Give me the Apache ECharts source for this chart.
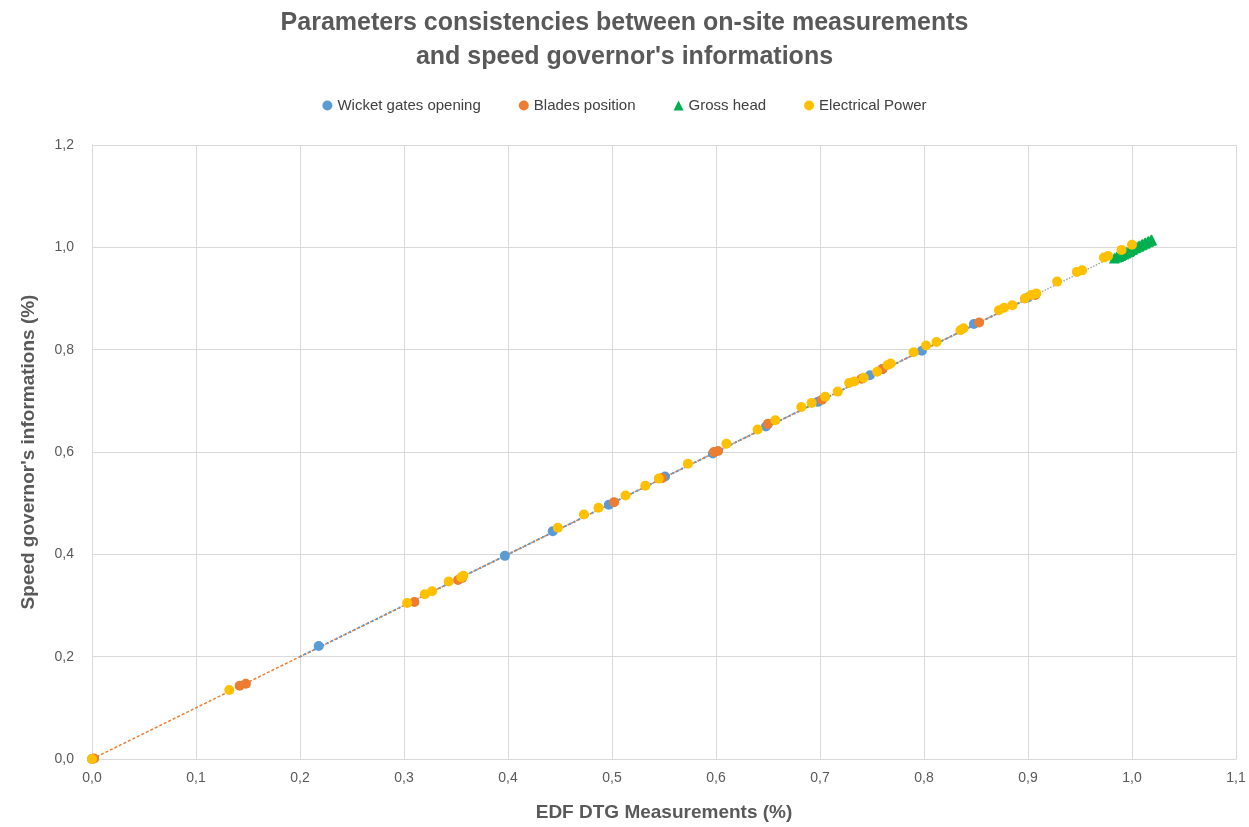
<!DOCTYPE html>
<html>
<head>
<meta charset="utf-8">
<script src="https://cdn.jsdelivr.net/npm/echarts@6/dist/echarts.min.js"></script>
<style>html,body{margin:0;padding:0;background:#fff}#c{width:1249px;height:827px}</style>
</head>
<body>
<div id="c"></div>
<script>
// Wicket gates opening [measurement, governor]
var wicketGates = [[0,0],[0.218,0.221],[0.397,0.397],[0.443,0.445],[0.497,0.497],[0.551,0.552],[0.597,0.597],[0.648,0.650],[0.698,0.698],[0.748,0.750],[0.760,0.762],[0.798,0.798],[0.848,0.850],[0.900,0.902]];
// Blades position
var bladesPosition = [[0.002,0.001],[0.142,0.143],[0.148,0.147],[0.310,0.307],[0.352,0.350],[0.356,0.354],[0.502,0.502],[0.548,0.549],[0.598,0.600],[0.602,0.602],[0.650,0.655],[0.702,0.702],[0.740,0.743],[0.760,0.762],[0.853,0.853],[0.907,0.907]];
// Gross head
var grossHead = [[0,-0.003],[0.983,0.979],[0.985,0.981],[0.987,0.982],[0.989,0.984],[0.990,0.986],[0.992,0.987],[0.994,0.989],[0.995,0.991],[0.997,0.992],[0.998,0.994],[1.000,0.996],[1.001,0.997],[1.003,0.999],[1.004,1.000],[1.006,1.002],[1.007,1.003],[1.009,1.005],[1.010,1.006],[1.012,1.008],[1.013,1.009],[1.015,1.011],[1.016,1.012],[1.018,1.014],[1.019,1.015]];
// Electrical Power
var electricalPower = [[0,0],[0.132,0.135],[0.303,0.305],[0.320,0.322],[0.327,0.328],[0.343,0.347],[0.355,0.355],[0.357,0.358],[0.448,0.452],[0.473,0.478],[0.487,0.491],[0.513,0.515],[0.532,0.534],[0.545,0.548],[0.573,0.577],[0.610,0.616],[0.640,0.644],[0.657,0.662],[0.682,0.688],[0.692,0.696],[0.705,0.708],[0.717,0.718],[0.728,0.735],[0.733,0.738],[0.742,0.745],[0.755,0.757],[0.765,0.770],[0.768,0.773],[0.790,0.795],[0.802,0.808],[0.812,0.815],[0.835,0.838],[0.838,0.842],[0.872,0.877],[0.877,0.882],[0.885,0.887],[0.897,0.900],[0.903,0.907],[0.908,0.910],[0.928,0.933],[0.947,0.952],[0.952,0.955],[0.973,0.980],[0.977,0.983],[0.990,0.995],[1.000,1.005]];
// Trendlines (endpoints)
var trendBlades = [[0,0],[0.91,0.91]];
var trendWicket = [[0.2,0.2],[0.9,0.9]];
var trendPower = [[0.3,0.3],[1.0,1.0]];
var xTicks = {min:0, max:1.1, interval:0.1};
var yTicks = {min:0, max:1.2, interval:0.2};

var fmt = function(v){return v.toFixed(1).replace('.', ',');};
var chart = echarts.init(document.getElementById('c'));
var txt = '#595959';
chart.setOption({
  animation:false,
  textStyle:{fontFamily:'Liberation Sans'},
  title:{
    text:"Parameters consistencies between on-site measurements\nand speed governor's informations",
    left:'center', top:1,
    textStyle:{fontSize:25, fontWeight:'bold', color:txt, lineHeight:34, fontFamily:'Liberation Sans'}
  },
  legend:{
    top:93, left:'center', itemWidth:10, itemHeight:10, itemGap:38,
    textStyle:{fontSize:15, color:'#404040'},
    data:[
      {name:'Wicket gates opening', icon:'circle'},
      {name:'Blades position', icon:'circle'},
      {name:'Gross head', icon:'triangle'},
      {name:'Electrical Power', icon:'circle'}
    ]
  },
  grid:{left:92, right:13, top:145, bottom:67, containLabel:false},
  xAxis:{
    type:'value', min:xTicks.min, max:xTicks.max, interval:xTicks.interval,
    name:'EDF DTG Measurements (%)', nameLocation:'middle', nameGap:44,
    nameTextStyle:{fontSize:19, fontWeight:'bold', color:txt},
    axisLine:{show:true, lineStyle:{color:'#d9d9d9'}},
    axisTick:{show:false},
    axisLabel:{formatter:fmt, color:txt, fontSize:14, margin:12},
    splitLine:{show:true, lineStyle:{color:'#d9d9d9'}}
  },
  yAxis:{
    type:'value', min:yTicks.min, max:yTicks.max, interval:yTicks.interval,
    name:"Speed governor's informations (%)", nameLocation:'middle', nameGap:54,
    nameTextStyle:{fontSize:19, fontWeight:'bold', color:txt},
    axisLine:{show:true, lineStyle:{color:'#d9d9d9'}},
    axisTick:{show:false},
    axisLabel:{formatter:fmt, color:txt, fontSize:14, margin:18},
    splitLine:{show:true, lineStyle:{color:'#d9d9d9'}}
  },
  series:[
    {type:'line', data:trendPower, symbol:'none', silent:true, z:1,
      lineStyle:{color:'#a5a5a5', width:1.5, type:'dotted'}},
    {type:'line', data:trendBlades, symbol:'none', silent:true, z:1,
      lineStyle:{color:'#ed7d31', width:1.5, type:[3,2]}},
    {type:'line', data:trendWicket, symbol:'none', silent:true, z:1,
      lineStyle:{color:'#5b9bd5', width:2, type:[2,3]}},
    {name:'Wicket gates opening', type:'scatter', data:wicketGates, symbol:'circle', symbolSize:10,
      itemStyle:{color:'#5b9bd5', opacity:1}, z:3},
    {name:'Blades position', type:'scatter', data:bladesPosition, symbol:'circle', symbolSize:10,
      itemStyle:{color:'#ed7d31', opacity:1}, z:3},
    {name:'Gross head', type:'scatter', data:grossHead, symbol:'triangle', symbolSize:11,
      itemStyle:{color:'#00b050', opacity:1}, z:2},
    {name:'Electrical Power', type:'scatter', data:electricalPower, symbol:'circle', symbolSize:10,
      itemStyle:{color:'#ffc000', opacity:1}, z:4}
  ]
});
</script>
</body>
</html>
